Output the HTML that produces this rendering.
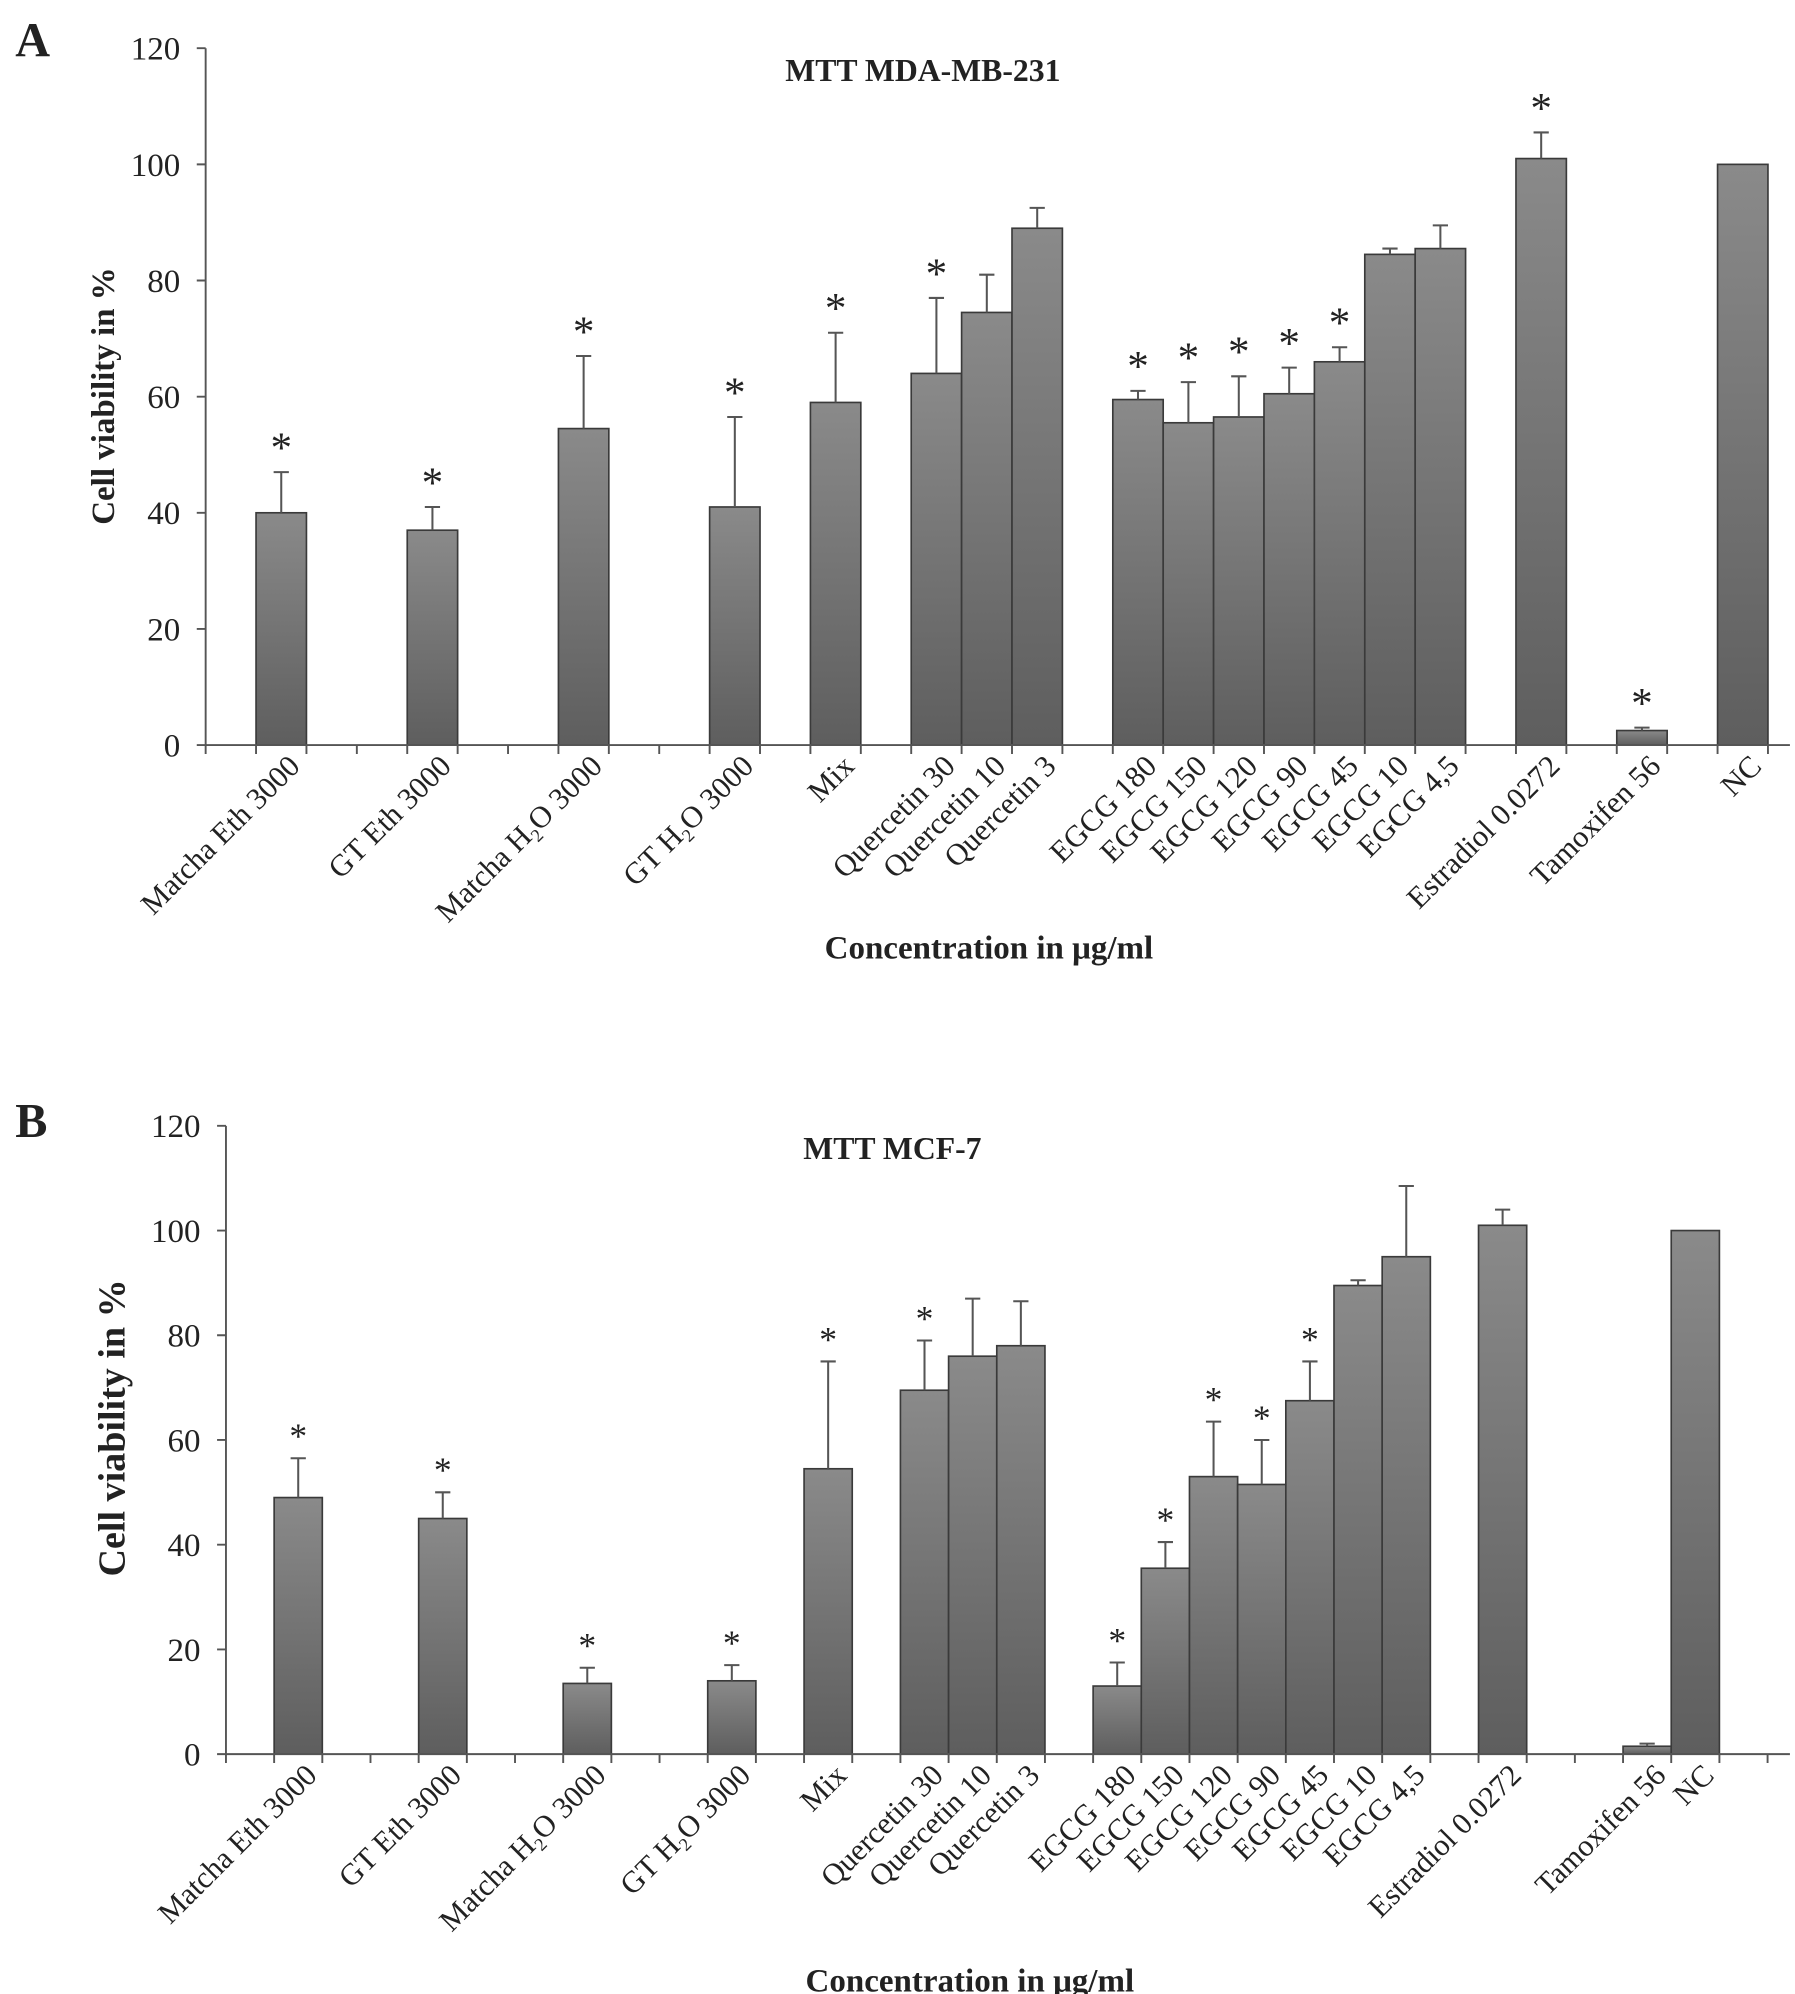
<!DOCTYPE html>
<html><head><meta charset="utf-8"><style>
html,body{margin:0;padding:0;background:#fff}
svg{display:block}
text{font-family:"Liberation Serif",serif;fill:#222}
</style></head><body>
<svg id="fig" width="1795" height="1994" viewBox="0 0 1414 1571" preserveAspectRatio="none" xmlns="http://www.w3.org/2000/svg">
<defs><linearGradient id="bg" x1="0" y1="0" x2="0" y2="1"><stop offset="0" stop-color="#8a8a8a"/><stop offset="1" stop-color="#5e5e5e"/></linearGradient></defs>
</svg>
<script>
const categories = ["Matcha Eth 3000","GT Eth 3000","Matcha H2O 3000","GT H2O 3000","Mix","Quercetin  30","Quercetin  10","Quercetin  3","EGCG  180","EGCG  150","EGCG  120","EGCG  90","EGCG  45","EGCG  10","EGCG  4,5","Estradiol  0.0272","Tamoxifen 56","NC"];
const slotsA = [1,4,7,10,12,14,15,16,18,19,20,21,22,23,24,26,28,30];
const slotsB = [1,4,7,10,12,14,15,16,18,19,20,21,22,23,24,26,29,30];
const valuesA = [40,37,54.5,41,59,64,74.5,89,59.5,55.5,56.5,60.5,66,84.5,85.5,101,2.5,100];
const errTopA = [47,41,67,56.5,71,77,81,92.5,61,62.5,63.5,65,68.5,85.5,89.5,105.5,3,100];
const starsA = [1,1,1,1,1,1,0,0,1,1,1,1,1,0,0,1,1,0];
const valuesB = [49,45,13.5,14,54.5,69.5,76,78,13,35.5,53,51.5,67.5,89.5,95,101,1.5,100];
const errTopB = [56.5,50,16.5,17,75,79,87,86.5,17.5,40.5,63.5,60,75,90.5,108.5,104,2,100];
const starsB = [1,1,1,1,1,1,0,0,1,1,1,1,1,0,0,0,0,0];
const yTicks = [0,20,40,60,80,100,120];

const svg = document.getElementById('fig');
const NS = "http://www.w3.org/2000/svg";
function mk(tag, attrs, parent){const e=document.createElementNS(NS,tag);for(const k in attrs)e.setAttribute(k,attrs[k]);(parent||svg).appendChild(e);return e;}

function panel(p){
  const g = mk('g',{});
  
  
  const y = v => p.y0 - v*(p.y0-p.y120)/120;
  const x = k => p.x0 + k*p.slot;
  const L = mk('text',{x:12,y:p.letterY,'font-size':38,'font-weight':'bold'},g); L.textContent=p.id;
  
  
  const T = mk('text',{x:p.titleX,y:p.titleY,'font-size':25,'font-weight':'bold','text-anchor':'middle','xml:space':'preserve'},g); T.textContent=p.title;
  
  
  categories.forEach((c,i)=>{
    const k=p.slots[i], v=p.values[i], e=p.err[i];
    const bx=x(k), by=y(v);
    const r = mk('rect',{x:bx,y:by,width:p.slot,height:p.y0-by,fill:'url(#bg)',stroke:'#3a3a3a','stroke-width':1.3},g);
    
    
    const cx = bx+p.slot/2;
    if(e>v+0.3){
      const el = mk('path',{d:`M${cx},${by}V${y(e)}M${cx-6},${y(e)}H${cx+6}`,stroke:'#555','stroke-width':1.6,fill:'none'},g);
      
      
    }
    if(p.stars[i]){
      const s = mk('text',{x:cx,y:y(Math.max(e,v))-8,'font-size':p.starSize,'text-anchor':'middle'},g); s.textContent='*';
      
      
    }
    const lx = cx+16, ly = p.y0+18;
    const t = mk('text',{x:lx,y:ly,'font-size':p.labFont,'text-anchor':'end','xml:space':'preserve',transform:`rotate(-45 ${lx} ${ly})`},g);
    
    
    if(c.indexOf('H2O')>=0){
      const parts=c.split('H2O');
      t.appendChild(document.createTextNode(parts[0]+'H'));
      const sub=mk('tspan',{'font-size':p.labFont*0.6,dy:5},t); sub.textContent='2';
      const rest=mk('tspan',{dy:-5},t); rest.textContent='O'+parts[1];
    } else t.textContent=c;
  });
  const ax = mk('path',{d:`M${p.x0},${p.y120}V${p.y0}H${p.xEnd}`,stroke:'#555','stroke-width':1.5,fill:'none'},g);
  
  
  let tk='';
  for(let k=0;k<=Math.floor((p.xEnd-p.x0)/p.slot);k++){tk+=`M${x(k)},${p.y0}v7`;}
  yTicks.forEach(v=>{tk+=`M${p.x0-7},${y(v)}h7`;});
  mk('path',{d:tk,stroke:'#555','stroke-width':1.5},g);
  yTicks.forEach(v=>{
    const t = mk('text',{x:p.x0-20,y:y(v)+9,'font-size':26,'text-anchor':'end'},g); t.textContent=v;
    
    
  });
  const yt = mk('text',{x:p.yTitleX,y:p.yTitleY,'font-size':p.yTitleFont,'font-weight':'bold','text-anchor':'middle',transform:`rotate(-90 ${p.yTitleX} ${p.yTitleY})`},g); yt.textContent='Cell viability in %';
  
  
  const xt = mk('text',{x:p.xTitleX,y:p.xTitleY,'font-size':26,'font-weight':'bold','text-anchor':'middle'},g); xt.textContent='Concentration in μg/ml';
  
  
}

panel({id:'A',title:'MTT MDA-MB-231',titleX:727,titleY:64,letterY:44,x0:162,xEnd:1410,slot:39.7,y0:587,y120:38,
  slots:slotsA,values:valuesA,err:errTopA,stars:starsA,starSize:34,labFont:24,
  yTitleX:90,yTitleY:312,yTitleFont:26,xTitleX:779,xTitleY:755});
panel({id:'B',title:'MTT  MCF-7',titleX:703,titleY:913,letterY:896,x0:178,xEnd:1410,slot:37.95,y0:1382,y120:887,
  slots:slotsB,values:valuesB,err:errTopB,stars:starsB,starSize:28,labFont:24,
  yTitleX:98,yTitleY:1125,yTitleFont:30,xTitleX:764,xTitleY:1569});
</script>
</body></html>
